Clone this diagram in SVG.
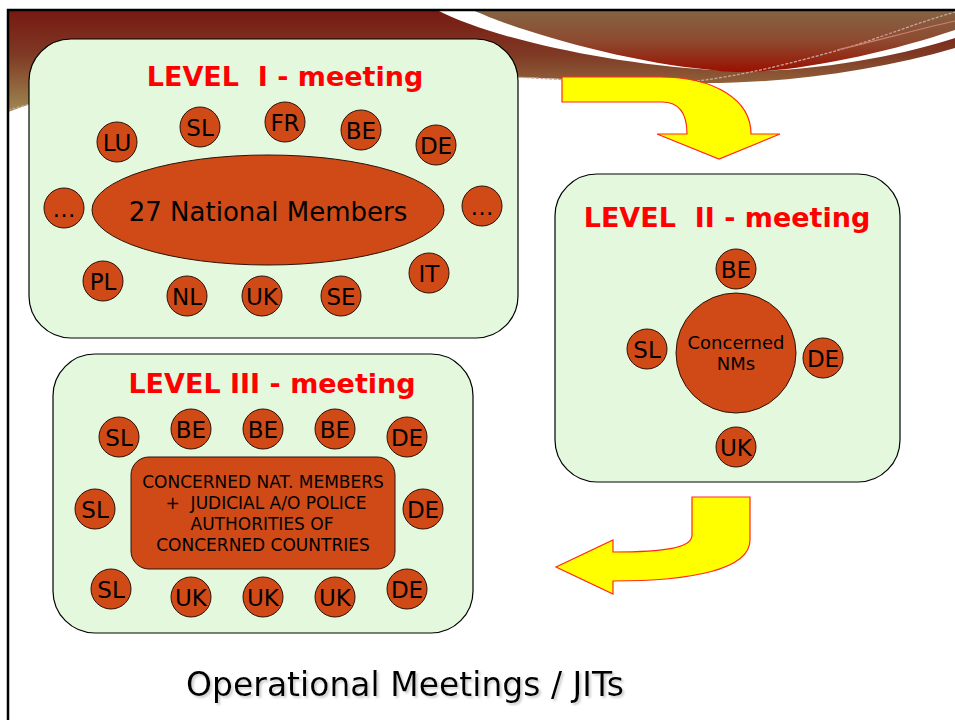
<svg xmlns="http://www.w3.org/2000/svg" width="955" height="720" viewBox="0 0 955 720">
<defs>
<linearGradient id="gA" gradientUnits="userSpaceOnUse" x1="0" y1="10" x2="0" y2="110">
<stop offset="0" stop-color="#771812"/><stop offset="0.45" stop-color="#7f3a24"/><stop offset="1" stop-color="#9e8650"/>
</linearGradient>
<linearGradient id="gB" gradientUnits="userSpaceOnUse" x1="0" y1="10" x2="0" y2="72">
<stop offset="0" stop-color="#846443"/><stop offset="0.5" stop-color="#8e4a30"/><stop offset="1" stop-color="#9a1000"/>
</linearGradient>
<filter id="sh" x="-5%" y="-20%" width="110%" height="150%">
<feDropShadow dx="2" dy="2" stdDeviation="0.8" flood-color="#aaa" flood-opacity="0.6"/>
</filter>
<style>
.box{fill:#e4f8de;stroke:#000;stroke-width:1.2}
.nm{fill:#d04a18;stroke:#2a1208;stroke-width:1}
.lbl{font-family:"DejaVu Sans",Verdana,sans-serif;font-size:23px;fill:#000;text-anchor:middle}
.title{font-family:"DejaVu Sans",Verdana,sans-serif;font-weight:bold;font-size:27px;fill:#ff0000;text-anchor:middle}
.inner{font-family:"DejaVu Sans",Verdana,sans-serif;font-size:17px;fill:#000;text-anchor:middle}
.arrow{fill:#ffff00;stroke:#ff2a1a;stroke-width:1.2;stroke-linejoin:miter}
.hl{fill:none;stroke:#c9a4a0;stroke-width:1.3;stroke-dasharray:3 1.5}
</style>
</defs>
<rect x="0" y="0" width="955" height="720" fill="#fff"/>
<g id="banner">
<path d="M8,10 H437 C490,38 610,64 712,70 C800,76 900,56 955,38 V48 C880,70 790,83 705,83 C640,83 570,79 513,77 L30,104 L8,112 Z" fill="url(#gA)"/>
<path d="M473,10 H955 V30 C890,52 800,72 740,72 C725,72 718,71 712,70 C620,62 510,28 473,10 Z" fill="url(#gB)"/>
<path class="hl" d="M513,77 C540,78 560,80 575,80"/>
<path class="hl" d="M697,81 C740,76 790,64 853,46 C890,34 920,22 955,12"/>
<path d="M837,50 C880,40 915,30 955,21" fill="none" stroke="#d08070" stroke-width="1.2"/>
<path class="hl" d="M8,110 L30,104"/>
<path d="M8,720 V10 H955" fill="none" stroke="#000" stroke-width="2.5"/>
</g>
<g id="connectors">
<path class="arrow" d="M562,77 H660 C715,77 751,100 751,134 H780 L719,159 L657,134 H687 C687,115 680,102 662,102 H562 Z"/>
<path class="arrow" d="M692,497 H750 V540 C750,570 690,581 613,581 V594 L556,567 L613,540 V552 C665,552 692,548 692,535 Z"/>
</g>
<g id="level1">
<rect class="box" x="29" y="39" width="489" height="299" rx="42" ry="42"/>
<text class="title" x="285" y="86" xml:space="preserve">LEVEL  I - meeting</text>
</g>
<g id="l1-center"><ellipse class="nm" cx="268" cy="210" rx="176" ry="55"/><text class="lbl" x="268" y="221" style="font-size:26px">27 National Members</text></g>
<g id="l1-LU"><circle class="nm" cx="117" cy="142" r="20"/><text class="lbl" x="117" y="151">LU</text></g>
<g id="l1-SL"><circle class="nm" cx="200" cy="127" r="20"/><text class="lbl" x="200" y="136">SL</text></g>
<g id="l1-FR"><circle class="nm" cx="285" cy="122" r="20"/><text class="lbl" x="285" y="131">FR</text></g>
<g id="l1-BE"><circle class="nm" cx="361" cy="130" r="20"/><text class="lbl" x="361" y="139">BE</text></g>
<g id="l1-DE"><circle class="nm" cx="436" cy="145" r="20"/><text class="lbl" x="436" y="154">DE</text></g>
<g id="l1-more-left"><circle class="nm" cx="64" cy="208" r="20"/><text class="lbl" x="64" y="217">…</text></g>
<g id="l1-more-right"><circle class="nm" cx="482" cy="206" r="20"/><text class="lbl" x="482" y="215">…</text></g>
<g id="l1-PL"><circle class="nm" cx="103" cy="281" r="20"/><text class="lbl" x="103" y="290">PL</text></g>
<g id="l1-NL"><circle class="nm" cx="187" cy="296" r="20"/><text class="lbl" x="187" y="305">NL</text></g>
<g id="l1-UK"><circle class="nm" cx="262" cy="296" r="20"/><text class="lbl" x="262" y="305">UK</text></g>
<g id="l1-SE"><circle class="nm" cx="341" cy="296" r="20"/><text class="lbl" x="341" y="305">SE</text></g>
<g id="l1-IT"><circle class="nm" cx="429" cy="273" r="20"/><text class="lbl" x="429" y="282">IT</text></g>
<g id="level2">
<rect class="box" x="555" y="174" width="345" height="308" rx="42" ry="42"/>
<text class="title" x="727" y="227" xml:space="preserve">LEVEL  II - meeting</text>
</g>
<g id="l2-center"><circle class="nm" cx="736" cy="353" r="60"/><text class="lbl" x="736" y="349" style="font-size:18px">Concerned</text><text class="lbl" x="736" y="370" style="font-size:18px">NMs</text></g>
<g id="l2-BE"><circle class="nm" cx="736" cy="269" r="20"/><text class="lbl" x="736" y="278">BE</text></g>
<g id="l2-SL"><circle class="nm" cx="647" cy="349" r="20"/><text class="lbl" x="647" y="358">SL</text></g>
<g id="l2-DE"><circle class="nm" cx="823" cy="358" r="20"/><text class="lbl" x="823" y="367">DE</text></g>
<g id="l2-UK"><circle class="nm" cx="736" cy="447" r="20"/><text class="lbl" x="736" y="456">UK</text></g>
<g id="level3">
<rect class="box" x="53" y="354" width="420" height="279" rx="42" ry="42"/>
<text class="title" x="272" y="393">LEVEL III - meeting</text>
</g>
<g id="l3-center">
<rect class="nm" x="131" y="457" width="264" height="112" rx="18" ry="18"/>
<text class="inner" x="263" y="488">CONCERNED NAT. MEMBERS</text>
<text class="inner" x="266" y="509" xml:space="preserve">+  JUDICIAL A/O POLICE</text>
<text class="inner" x="262" y="530">AUTHORITIES OF</text>
<text class="inner" x="263" y="551">CONCERNED COUNTRIES</text>
</g>
<g id="l3-SL1"><circle class="nm" cx="119" cy="437" r="20"/><text class="lbl" x="119" y="446">SL</text></g>
<g id="l3-BE1"><circle class="nm" cx="191" cy="429" r="20"/><text class="lbl" x="191" y="438">BE</text></g>
<g id="l3-BE2"><circle class="nm" cx="263" cy="429" r="20"/><text class="lbl" x="263" y="438">BE</text></g>
<g id="l3-BE3"><circle class="nm" cx="335" cy="429" r="20"/><text class="lbl" x="335" y="438">BE</text></g>
<g id="l3-DE1"><circle class="nm" cx="407" cy="437" r="20"/><text class="lbl" x="407" y="446">DE</text></g>
<g id="l3-SL2"><circle class="nm" cx="95" cy="509" r="20"/><text class="lbl" x="95" y="518">SL</text></g>
<g id="l3-DE2"><circle class="nm" cx="423" cy="509" r="20"/><text class="lbl" x="423" y="518">DE</text></g>
<g id="l3-SL3"><circle class="nm" cx="111" cy="589" r="20"/><text class="lbl" x="111" y="598">SL</text></g>
<g id="l3-UK1"><circle class="nm" cx="191" cy="597" r="20"/><text class="lbl" x="191" y="606">UK</text></g>
<g id="l3-UK2"><circle class="nm" cx="263" cy="597" r="20"/><text class="lbl" x="263" y="606">UK</text></g>
<g id="l3-UK3"><circle class="nm" cx="335" cy="597" r="20"/><text class="lbl" x="335" y="606">UK</text></g>
<g id="l3-DE3"><circle class="nm" cx="407" cy="589" r="20"/><text class="lbl" x="407" y="598">DE</text></g>
<g id="footer">
<text x="405" y="696" filter="url(#sh)" style="font-family:'DejaVu Sans',Verdana,sans-serif;font-size:33px;fill:#000;text-anchor:middle">Operational Meetings / JITs</text>
</g>
</svg>
